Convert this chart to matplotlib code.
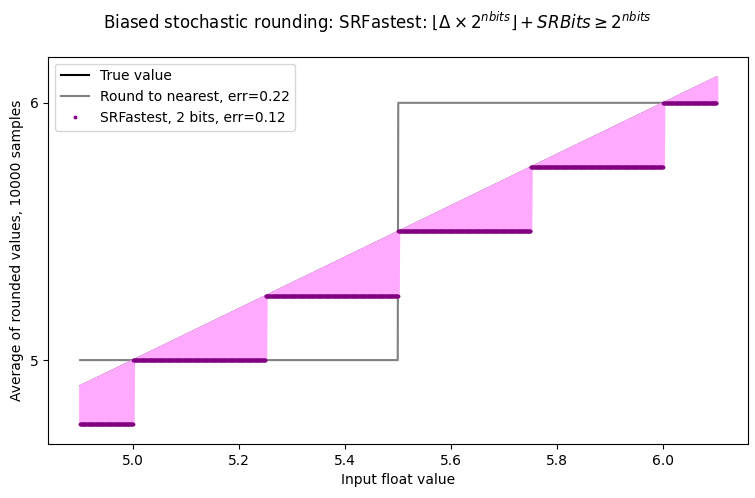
import numpy as np
import matplotlib
matplotlib.use("Agg")
import matplotlib.pyplot as plt

# Data
x_min, x_max = 4.9, 6.1
n_points = 1201
sr_breaks = [5.0, 5.25, 5.5, 5.75, 6.0]
sr_levels = [4.75, 5.0, 5.25, 5.5, 5.75, 6.0]
rtn_breaks = [5.5]
rtn_levels = [5.0, 6.0]
rtn_err = 0.22
sr_err = 0.12
n_bits = 2
n_samples = 10000

x = np.linspace(x_min, x_max, n_points)
sr_y = np.array(sr_levels)[np.searchsorted(sr_breaks, x, side="right")]
rtn_y = np.array(rtn_levels)[np.searchsorted(rtn_breaks, x, side="right")]

fig, ax = plt.subplots(figsize=(7.55, 4.98), dpi=100)
ax.plot(x, x, color="black", label="True value", zorder=2, linewidth=1.0)
ax.plot(x, rtn_y, color="gray", label=f"Round to nearest, err={rtn_err:.2f}", zorder=2)
ax.fill_between(x, x, sr_y, facecolor="#ffaaff", edgecolor="#ffaaff",
                linewidth=2.2, zorder=2.5)
ax.plot(x, sr_y, ".", color="purple", markersize=3.5,
        label=f"SRFastest, {n_bits} bits, err={sr_err:.2f}", zorder=3)

ax.set_yticks([5, 6])
ax.set_ylim(4.673, 6.179)
ax.set_xlabel("Input float value")
ax.set_ylabel(f"Average of rounded values, {n_samples} samples")
leg = ax.legend(loc="upper left")
leg.get_lines()[0].set_linewidth(1.5)
fig.suptitle(r"Biased stochastic rounding: SRFastest: $\lfloor \Delta \times 2^{nbits} \rfloor + SRBits \geq 2^{nbits}$")
fig.subplots_adjust(left=0.064, right=0.991, bottom=0.108, top=0.886)
fig.savefig("out.png", dpi=100)
